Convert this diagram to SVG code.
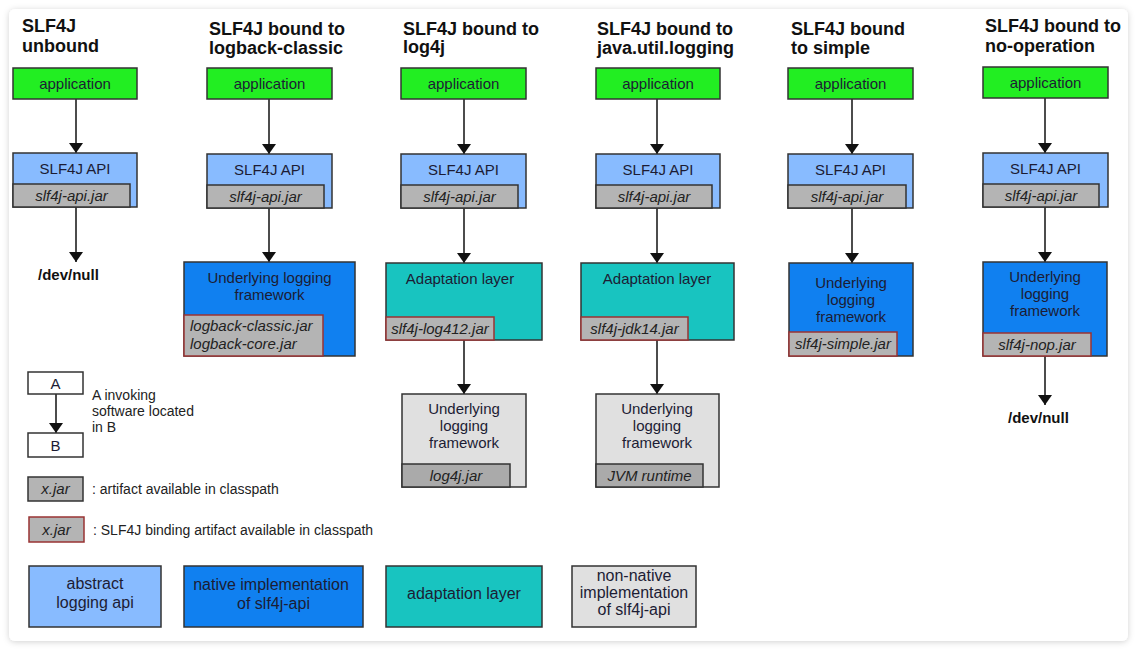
<svg xmlns="http://www.w3.org/2000/svg" width="1137" height="650" viewBox="0 0 1137 650">
<style>
text{font-family:"Liberation Sans",Arial,sans-serif;fill:#1c1c34}
.t{font-weight:bold;font-size:18px;fill:#111}
.n{font-size:15px;text-anchor:middle}
.lg{font-size:16px;text-anchor:middle}
.j{font-size:15px;font-style:italic;text-anchor:middle;fill:#222}
.jl{font-size:15px;font-style:italic;fill:#222}
.l{font-size:14px;fill:#222}
.dn{font-weight:bold;font-size:15px;fill:#111}
.box{stroke:#333;stroke-width:1.5}
.app{fill:#22ee22}
.api{fill:#88bbff}
.nat{fill:#1080f0}
.ada{fill:#18c4c0}
.non{fill:#e0e0e0}
.jar{fill:#b4b4b4;stroke:#333;stroke-width:1.5}
.jar2{fill:#aaaaaa;stroke:#333;stroke-width:1.5}
.bind{fill:#b4b4b4;stroke:#993333;stroke-width:1.5}
.wh{fill:#fff}
.c line{stroke:#111;stroke-width:1.5;marker-end:url(#ah)}
</style>
<defs>
<marker id="ah" viewBox="0 0 10 14" refX="10" refY="7" markerWidth="10" markerHeight="14" markerUnits="userSpaceOnUse" orient="auto">
<path d="M0,0 L10,7 L0,14 z" fill="#111"/>
</marker>
<filter id="sh" x="-5%" y="-5%" width="110%" height="110%">
<feDropShadow dx="0" dy="1" stdDeviation="3" flood-color="#000" flood-opacity="0.18"/>
</filter>
</defs>
<rect width="1137" height="650" fill="#ffffff"/>
<rect x="9" y="9" width="1119" height="632" rx="6" fill="#fff" filter="url(#sh)"/>

<g id="titles">
<text class="t" x="22" y="32">SLF4J</text><text class="t" x="22" y="52">unbound</text>
<text class="t" x="209" y="35">SLF4J bound to</text><text class="t" x="209" y="54">logback-classic</text>
<text class="t" x="403" y="35">SLF4J bound to</text><text class="t" x="403" y="53">log4j</text>
<text class="t" x="597" y="35">SLF4J bound to</text><text class="t" x="597" y="54">java.util.logging</text>
<text class="t" x="791" y="35">SLF4J bound</text><text class="t" x="791" y="54">to simple</text>
<text class="t" x="985" y="32">SLF4J bound to</text><text class="t" x="985" y="52">no-operation</text>
</g>

<g class="c" id="connectors">
<line x1="76" y1="99" x2="76" y2="153"/>
<line x1="76" y1="207" x2="76" y2="262"/>
<line x1="269" y1="99" x2="269" y2="154"/>
<line x1="269" y1="208" x2="269" y2="262"/>
<line x1="464" y1="99" x2="464" y2="154"/>
<line x1="464" y1="208" x2="464" y2="263"/>
<line x1="464" y1="340" x2="464" y2="394"/>
<line x1="657" y1="99" x2="657" y2="154"/>
<line x1="657" y1="208" x2="657" y2="263"/>
<line x1="657" y1="340" x2="657" y2="394"/>
<line x1="852" y1="99" x2="852" y2="154"/>
<line x1="852" y1="208" x2="852" y2="263"/>
<line x1="1045" y1="98" x2="1045" y2="153"/>
<line x1="1045" y1="207" x2="1045" y2="262"/>
<line x1="1045" y1="356" x2="1045" y2="405"/>
<line x1="56" y1="394" x2="56" y2="433"/>
</g>

<g id="c1-app"><rect class="box app" x="13" y="68" width="124" height="31"/><text class="n" x="75" y="89">application</text></g>
<g id="c1-api"><rect class="box api" x="13" y="153" width="124" height="54"/><text class="n" x="75" y="174">SLF4J API</text><rect class="jar" x="13" y="184" width="117" height="23"/><text class="j" x="71.5" y="201">slf4j-api.jar</text></g>
<g id="c1-null"><text class="dn" x="38" y="280">/dev/null</text></g>

<g id="c2-app"><rect class="box app" x="207" y="68" width="125" height="31"/><text class="n" x="269.5" y="89">application</text></g>
<g id="c2-api"><rect class="box api" x="207" y="154" width="125" height="54"/><text class="n" x="269.5" y="175">SLF4J API</text><rect class="jar" x="207" y="185" width="117" height="23"/><text class="j" x="265.5" y="202">slf4j-api.jar</text></g>
<g id="c2-ul"><rect class="box nat" x="184" y="262" width="171" height="94"/><text class="n" x="269.5" y="283">Underlying logging</text><text class="n" x="269.5" y="300">framework</text><rect class="bind" x="184" y="315" width="139" height="41"/><text class="jl" x="190" y="331">logback-classic.jar</text><text class="jl" x="190" y="349">logback-core.jar</text></g>

<g id="c3-app"><rect class="box app" x="401" y="68" width="125" height="31"/><text class="n" x="463.5" y="89">application</text></g>
<g id="c3-api"><rect class="box api" x="401" y="154" width="125" height="54"/><text class="n" x="463.5" y="175">SLF4J API</text><rect class="jar" x="401" y="185" width="117" height="23"/><text class="j" x="459.5" y="202">slf4j-api.jar</text></g>
<g id="c3-ada"><rect class="box ada" x="386" y="263" width="156" height="77"/><text class="n" x="460" y="284">Adaptation layer</text><rect class="bind" x="386" y="317" width="108" height="23"/><text class="j" x="440" y="334">slf4j-log412.jar</text></g>
<g id="c3-ul"><rect class="box non" x="402" y="394" width="124" height="93"/><text class="n" x="464" y="414">Underlying</text><text class="n" x="464" y="431">logging</text><text class="n" x="464" y="448">framework</text><rect class="jar2" x="402" y="464" width="108" height="23"/><text class="j" x="456" y="481">log4j.jar</text></g>

<g id="c4-app"><rect class="box app" x="596" y="68" width="124" height="31"/><text class="n" x="658" y="89">application</text></g>
<g id="c4-api"><rect class="box api" x="596" y="154" width="124" height="54"/><text class="n" x="658" y="175">SLF4J API</text><rect class="jar" x="596" y="185" width="116" height="23"/><text class="j" x="654" y="202">slf4j-api.jar</text></g>
<g id="c4-ada"><rect class="box ada" x="581" y="263" width="153" height="77"/><text class="n" x="657" y="284">Adaptation layer</text><rect class="bind" x="581" y="317" width="107" height="23"/><text class="j" x="634.5" y="334">slf4j-jdk14.jar</text></g>
<g id="c4-ul"><rect class="box non" x="596" y="394" width="123" height="93"/><text class="n" x="657" y="414">Underlying</text><text class="n" x="657" y="431">logging</text><text class="n" x="657" y="448">framework</text><rect class="jar2" x="596" y="464" width="107" height="23"/><text class="j" x="649.5" y="481">JVM runtime</text></g>

<g id="c5-app"><rect class="box app" x="788" y="68" width="125" height="31"/><text class="n" x="850.5" y="89">application</text></g>
<g id="c5-api"><rect class="box api" x="788" y="154" width="125" height="54"/><text class="n" x="850.5" y="175">SLF4J API</text><rect class="jar" x="788" y="185" width="118" height="23"/><text class="j" x="847" y="202">slf4j-api.jar</text></g>
<g id="c5-ul"><rect class="box nat" x="789" y="263" width="124" height="93"/><text class="n" x="851" y="288">Underlying</text><text class="n" x="851" y="305">logging</text><text class="n" x="851" y="322">framework</text><rect class="bind" x="789" y="332" width="108" height="24"/><text class="j" x="843" y="349">slf4j-simple.jar</text></g>

<g id="c6-app"><rect class="box app" x="983" y="67" width="125" height="31"/><text class="n" x="1045.5" y="88">application</text></g>
<g id="c6-api"><rect class="box api" x="983" y="153" width="125" height="54"/><text class="n" x="1045.5" y="174">SLF4J API</text><rect class="jar" x="983" y="184" width="116" height="23"/><text class="j" x="1041" y="201">slf4j-api.jar</text></g>
<g id="c6-ul"><rect class="box nat" x="983" y="262" width="124" height="94"/><text class="n" x="1045" y="282">Underlying</text><text class="n" x="1045" y="299">logging</text><text class="n" x="1045" y="316">framework</text><rect class="bind" x="983" y="333" width="108" height="23"/><text class="j" x="1037" y="350">slf4j-nop.jar</text></g>
<g id="c6-null"><text class="dn" x="1008" y="423">/dev/null</text></g>

<g id="legend-a"><rect class="box wh" x="28" y="372" width="55" height="22"/><text class="n" x="55.5" y="389">A</text></g>
<g id="legend-b"><rect class="box wh" x="28" y="433" width="55" height="24"/><text class="n" x="55.5" y="451">B</text></g>
<g id="legend-ab-text"><text class="l" x="92" y="400">A invoking</text><text class="l" x="92" y="416">software located</text><text class="l" x="92" y="432">in B</text></g>
<g id="legend-jar"><rect class="jar" x="28" y="477" width="55" height="24"/><text class="j" x="55.5" y="494">x.jar</text><text class="l" x="92" y="494">: artifact available in classpath</text></g>
<g id="legend-bind"><rect class="bind" x="29" y="517" width="55" height="25"/><text class="j" x="56.5" y="535">x.jar</text><text class="l" x="93" y="535">: SLF4J binding artifact available in classpath</text></g>

<g id="legend-abstract"><rect class="box api" x="29" y="566" width="132" height="61"/><text class="lg" x="95" y="589">abstract</text><text class="lg" x="95" y="608">logging api</text></g>
<g id="legend-native"><rect class="box nat" x="184" y="566" width="179" height="61"/><text class="lg" x="271" y="590">native implementation</text><text class="lg" x="273.5" y="609">of slf4j-api</text></g>
<g id="legend-adapt"><rect class="box ada" x="386" y="566" width="156" height="61"/><text class="lg" x="464" y="599">adaptation layer</text></g>
<g id="legend-nonnative"><rect class="box non" x="572" y="566" width="124" height="61"/><text class="lg" x="634" y="581">non-native</text><text class="lg" x="634" y="598">implementation</text><text class="lg" x="634" y="615">of slf4j-api</text></g>
</svg>
